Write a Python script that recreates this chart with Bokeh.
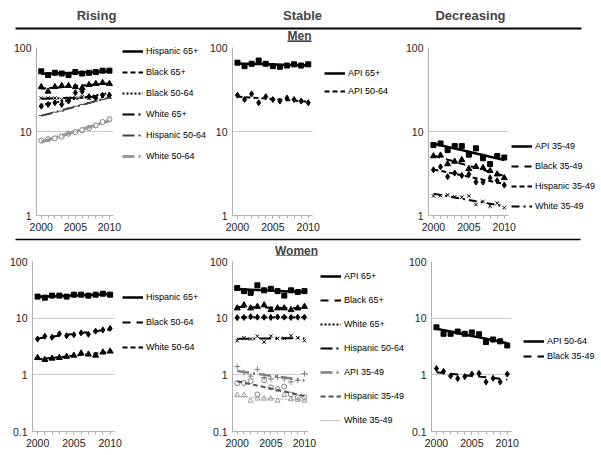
import numpy as np
from bokeh.plotting import figure
from bokeh.layouts import column, row
from bokeh.models import (Range1d, FixedTicker, CustomJSTickFormatter, Legend,
                          LegendItem, Label, BoxAnnotation)
from bokeh.embed import file_html
from bokeh.resources import INLINE

FONT = "Liberation Sans"

years = list(range(2000, 2011))
x_ticks = [2000, 2005, 2010]
y_ticks = [0.1, 1, 10, 100]

# ---- Men: rising ----
hisp65_m = [52, 47, 50, 49, 47, 51, 49, 50, 51, 53, 53]
black65_m = [34, 30, 34, 35, 35, 34, 33, 36, 37, 38, 37]
black5064_m = [20, 21, 22, 21, 23, 29, 30, 26, 25, 27, 27]
white65_m = [25, 25, 25, 24, 25, 25, 26, 25, 26, 26, 26]
hisp5064_m = [15.5, 16, 17, 17.5, 19, 20, 21, 22, 23, 24, 25]
white5064_m = [7.8, 8.1, 8.3, 8.7, 9.4, 9.8, 10.4, 11.0, 11.8, 13.0, 14.0]
# ---- Men: stable ----
api65_m = [66, 60, 64, 70, 64, 60, 59, 61, 63, 61, 63]
api5064_m = [27, 24, 28, 22, 26, 24, 23, 25, 24, 23, 22]
# ---- Men: decreasing ----
api3549_m = [6.9, 7.2, 6.0, 6.7, 6.7, 5.3, 6.3, 4.8, 4.1, 5.1, 4.9]
black3549_m = [5.1, 5.2, 4.1, 4.4, 4.6, 3.6, 3.8, 3.7, 3.4, 3.1, 2.8]
hisp3549_m = [3.5, 3.8, 2.9, 3.2, 3.0, 3.1, 2.5, 2.5, 2.8, 2.6, 2.3]
white3549_m = [1.71, 1.72, 1.76, 1.67, 1.65, 1.71, 1.35, 1.47, 1.29, 1.40, 1.24]
# ---- Women: rising ----
hisp65_w = [24, 23, 25, 25, 24, 26, 26, 25, 26, 27, 26]
black5064_w = [4.3, 4.8, 4.6, 5.3, 4.9, 5.1, 5.5, 5.2, 5.9, 6.2, 6.6]
white5064_w = [2.0, 1.85, 1.95, 2.0, 2.1, 2.2, 2.4, 2.3, 2.2, 2.5, 2.6]
# ---- Women: stable ----
api65_w = [34, 30, 28, 38, 31, 33, 30, 25, 31, 29, 30]
black65_w = [15, 17, 15, 16, 17, 14, 15, 15, 14, 15, 16]
white65_w = [10.2, 10.3, 10.6, 10.4, 10.4, 10.3, 10.5, 10.4, 10.3, 10.4, 10.4]
hisp5064_w = [4.0, 4.5, 4.3, 4.8, 3.8, 4.8, 4.4, 4.4, 4.9, 4.5, 4.0]
api3549_w = [1.4, 1.1, 0.95, 1.25, 0.9, 0.85, 0.9, 0.85, 0.75, 0.8, 1.05]
hisp3549_w = [0.71, 0.72, 0.78, 0.45, 0.8, 0.6, 0.56, 0.62, 0.45, 0.40, 0.40]
white3549_w = [0.44, 0.44, 0.35, 0.38, 0.38, 0.38, 0.35, 0.44, 0.37, 0.36, 0.35]
# ---- Women: decreasing ----
api5064_w = [6.9, 5.3, 5.3, 5.8, 5.3, 5.6, 5.2, 3.8, 4.2, 3.9, 3.3]
black3549_w = [1.29, 1.15, 0.95, 0.86, 0.93, 1.03, 1.06, 0.75, 0.87, 0.75, 1.03]

headers = ["Rising", "Stable", "Decreasing"]

X0, X1 = 1999.3, 2010.6
GRID = "#c8c8c8"
AXIS = "#b0b0b0"


def S(name, vals, marker, msize, mcolor, mfill, dash, lcolor, lwidth):
    return dict(name=name, vals=vals, marker=marker, msize=msize, mcolor=mcolor,
                mfill=mfill, dash=dash, lcolor=lcolor, lwidth=lwidth)


def make_panel(left, fw_plot, fw_total, top, fh, bottom, ymin, series,
               leg_dx, leg_top, item_h, spacing):
    # frame covers the plotting area plus the legend area to its right
    x_end = X0 + (X1 - X0) * fw_total / fw_plot
    p = figure(frame_width=fw_total, frame_height=fh, y_axis_type="log",
               x_range=Range1d(X0, x_end), y_range=Range1d(ymin, 100),
               output_backend="svg", toolbar_location=None,
               min_border_left=left, min_border_right=0,
               min_border_top=top, min_border_bottom=bottom)
    p.outline_line_color = None
    p.background_fill_color = "white"
    p.xgrid.visible = False
    p.ygrid.grid_line_color = GRID
    p.ygrid.grid_line_width = 1
    try:
        p.ygrid.cross_bounds = (X0, X1)
    except Exception:
        p.ygrid.visible = False
        gy = [t for t in y_ticks if ymin <= t <= 100]
        p.segment(x0=[X0] * len(gy), x1=[X1] * len(gy), y0=gy, y1=gy,
                  line_color=GRID, line_width=1, level="underlay")

    p.yaxis.ticker = FixedTicker(ticks=y_ticks, minor_ticks=[])
    p.yaxis.formatter = CustomJSTickFormatter(code="return tick.toString();")
    p.yaxis.axis_line_color = AXIS
    p.yaxis.major_tick_line_color = None
    p.yaxis.minor_tick_line_color = None
    p.yaxis.major_tick_out = 0
    p.yaxis.major_tick_in = 0
    p.yaxis.minor_tick_out = 0
    p.yaxis.minor_tick_in = 0
    p.yaxis.major_label_standoff = 5
    p.yaxis.major_label_text_font = FONT
    p.yaxis.major_label_text_font_size = "10.5px"
    p.yaxis.major_label_text_color = "#222222"

    p.xaxis.bounds = (X0, X1)
    p.xaxis.ticker = FixedTicker(ticks=x_ticks, minor_ticks=years)
    p.xaxis.axis_line_color = AXIS
    p.xaxis.major_tick_line_color = AXIS
    p.xaxis.minor_tick_line_color = AXIS
    p.xaxis.major_tick_in = 0
    p.xaxis.major_tick_out = 3
    p.xaxis.minor_tick_in = 0
    p.xaxis.minor_tick_out = 3
    p.xaxis.major_label_standoff = 4
    p.xaxis.major_label_text_font = FONT
    p.xaxis.major_label_text_font_size = "10.5px"
    p.xaxis.major_label_text_color = "#222222"

    items = []
    for s in series:
        vals = np.array(s["vals"], dtype=float)
        coef = np.polyfit(years, np.log10(vals), 1)
        trend = 10 ** np.polyval(coef, years)
        p.scatter(years, vals, marker=s["marker"], size=s["msize"],
                  line_color=s["mcolor"], fill_color=s["mfill"], line_width=1)
        r = p.line(years, trend, line_color=s["lcolor"], line_width=s["lwidth"],
                   line_dash=s["dash"])
        items.append(LegendItem(label=s["name"], renderers=[r]))

    n = len(series)
    H = n * item_h + (n - 1) * spacing
    leg = Legend(items=items, location=(fw_plot + leg_dx, fh - leg_top - H))
    leg.label_text_font = FONT
    leg.label_text_font_size = "9px"
    leg.label_text_color = "black"
    leg.glyph_width = 21
    leg.glyph_height = item_h
    leg.label_height = item_h
    leg.label_standoff = 3
    leg.spacing = spacing
    leg.padding = 0
    leg.margin = 0
    leg.border_line_color = None
    leg.background_fill_alpha = 0
    p.add_layout(leg)
    return p


SOLID = "solid"
DDOT = "12 4 2 4"

# Men row: frames at x = 36, 230, 424
p1 = make_panel(36, 77, 170, 5, 168, 21, 1, [
    S("Hispanic 65+", hisp65_m, "square", 5, "black", "black", SOLID, "black", 2.5),
    S("Black 65+", black65_m, "triangle", 6, "black", "black", "5 3", "black", 2),
    S("Black 50-64", black5064_m, "diamond", 6, "black", "black", "2 2", "black", 2),
    S("White 65+", white65_m, "x", 5, "black", "black", DDOT, "black", 2),
    S("Hispanic 50-64", hisp5064_m, "dash", 5, "#444444", "#444444", DDOT, "#444444", 2),
    S("White 50-64", white5064_m, "circle", 5, "#808080", None, DDOT, "#999999", 3),
], 9, -3, 14, 7)

p2 = make_panel(24, 80, 170, 5, 168, 21, 1, [
    S("API 65+", api65_m, "square", 5, "black", "black", SOLID, "black", 2.5),
    S("API 50-64", api5064_m, "diamond", 6, "black", "black", "5 3", "black", 2),
], 12, 19, 14, 4)

p3 = make_panel(24, 80, 177, 5, 168, 21, 1, [
    S("API 35-49", api3549_m, "square", 5, "black", "black", SOLID, "black", 2.5),
    S("Black 35-49", black3549_m, "triangle", 6, "black", "black", "7 6", "black", 2),
    S("Hispanic 35-49", hisp3549_m, "diamond", 6, "black", "black", "5 3", "black", 2),
    S("White 35-49", white3549_m, "x", 5, "black", "black", "8 4 2 4", "black", 2),
], 3, 92, 14, 6)

# Women row: frames at x = 32, 232, 428
p4 = make_panel(32, 82, 168, 5, 170, 23, 0.1, [
    S("Hispanic 65+", hisp65_w, "square", 5, "black", "black", SOLID, "black", 2.5),
    S("Black 50-64", black5064_w, "diamond", 6, "black", "black", "8 6", "black", 2),
    S("White 50-64", white5064_w, "triangle", 6, "black", "black", "5 3", "black", 2),
], 8, 29, 14, 11)

p5 = make_panel(32, 76, 173, 5, 170, 23, 0.1, [
    S("API 65+", api65_w, "square", 5, "black", "black", SOLID, "black", 2.5),
    S("Black 65+", black65_w, "triangle", 6, "black", "black", "8 6", "black", 2),
    S("White 65+", white65_w, "diamond", 6, "black", "black", "2 2", "black", 2),
    S("Hispanic 50-64", hisp5064_w, "x", 5, "black", "black", DDOT, "black", 2),
    S("API 35-49", api3549_w, "cross", 6, "#808080", "#808080", DDOT, "#808080", 2.5),
    S("Hispanic 35-49", hisp3549_w, "circle", 5, "#808080", None, "5 3", "#555555", 2),
    S("White 35-49", white3549_w, "triangle", 5, "#999999", None, "2 1", "#aaaaaa", 1),
], 12, 8, 14, 10)

p6 = make_panel(23, 80, 173, 5, 170, 23, 0.1, [
    S("API 50-64", api5064_w, "square", 5, "black", "black", SOLID, "black", 2.5),
    S("Black 35-49", black3549_w, "diamond", 6, "black", "black", "8 6", "black", 2),
], 12, 73, 14, 1)


def canvas(h, y0):
    c = figure(width=601, height=h, x_range=Range1d(0, 601), y_range=Range1d(y0 + h, y0),
               output_backend="svg", toolbar_location=None,
               x_axis_location=None, y_axis_location=None, min_border=0)
    c.grid.visible = False
    c.outline_line_color = None
    return c


hdr = canvas(42, 0)
for txt, xc in zip(headers, [96, 302, 470]):
    hdr.add_layout(Label(x=xc, y=15, text=txt, text_align="center", text_baseline="middle",
                         text_font=FONT, text_font_style="bold", text_font_size="13px"))
hdr.add_layout(BoxAnnotation(left=15, right=581, top=27, bottom=29,
                             fill_color="black", fill_alpha=1, line_color=None))
hdr.add_layout(Label(x=299, y=35, text="Men", text_align="center", text_baseline="middle",
                     text_font=FONT, text_font_style="bold", text_font_size="12px"))
hdr.add_layout(BoxAnnotation(left=287, right=311, top=40, bottom=41.2,
                             fill_color="black", fill_alpha=1, line_color=None))

sep = canvas(20, 236)
sep.add_layout(BoxAnnotation(left=15, right=580, top=238.2, bottom=239.8,
                             fill_color="black", fill_alpha=1, line_color=None))
sep.add_layout(Label(x=296, y=250, text="Women", text_align="center", text_baseline="middle",
                     text_font=FONT, text_font_style="bold", text_font_size="12px"))
sep.add_layout(BoxAnnotation(left=275, right=317, top=255, bottom=256,
                             fill_color="black", fill_alpha=1, line_color=None))

layout = column(hdr, row(p1, p2, p3), sep, row(p4, p5, p6))

open("out.html", "w").write(file_html(layout, INLINE))
